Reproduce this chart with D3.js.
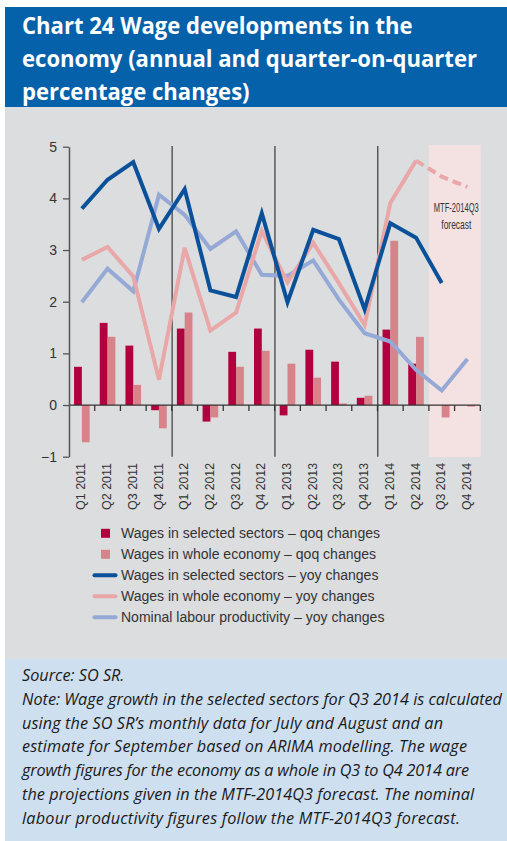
<!DOCTYPE html>
<html>
<head>
<meta charset="utf-8">
<script src="https://cdn.jsdelivr.net/npm/d3@7"></script>
<style>
  html, body { margin: 0; padding: 0; background: #ffffff; }
  svg { display: block; }
</style>
</head>
<body>
<svg id="chart" width="507" height="841"></svg>
<script>
const quarters = ["Q1 2011","Q2 2011","Q3 2011","Q4 2011","Q1 2012","Q2 2012","Q3 2012","Q4 2012",
                  "Q1 2013","Q2 2013","Q3 2013","Q4 2013","Q1 2014","Q2 2014","Q3 2014","Q4 2014"];
const qoqSelected = [0.74, 1.59, 1.15, -0.10, 1.48, -0.32, 1.03, 1.48, -0.20, 1.07, 0.84, 0.14, 1.46, 0.80, null, null];
const qoqWhole    = [-0.72, 1.32, 0.39, -0.45, 1.79, -0.24, 0.74, 1.05, 0.80, 0.53, 0.03, 0.18, 3.18, 1.32, -0.24, -0.03];
const yoySelected = [3.80, 4.36, 4.70, 3.41, 4.18, 2.22, 2.09, 3.71, 1.99, 3.39, 3.21, 1.85, 3.52, 3.24, 2.36, null];
const yoyWhole    = [2.81, 3.06, 2.49, 0.49, 3.04, 1.44, 1.79, 3.37, 2.37, 3.14, 2.36, 1.55, 3.91, 4.73, 4.42, 4.22];
const productivity= [1.99, 2.64, 2.20, 4.07, 3.68, 3.02, 3.36, 2.52, 2.50, 2.80, 2.04, 1.39, 1.23, 0.68, 0.28, 0.89];
const forecastQuarters = ["Q3 2014", "Q4 2014"];
const lastActualQuarter = "Q2 2014";
const yTicks = [-1, 0, 1, 2, 3, 4, 5];
const yearStarts = ["Q1 2012", "Q1 2013", "Q1 2014"];

const titleLines = ["Chart 24 Wage developments in the", "economy (annual and quarter-on-quarter", "percentage changes)"];
const legendItems = [
  {label: "Wages in selected sectors – qoq changes", type: "bar", color: "#b1003d"},
  {label: "Wages in whole economy – qoq changes", type: "bar", color: "#d8828a"},
  {label: "Wages in selected sectors – yoy changes", type: "line", color: "#0b519a"},
  {label: "Wages in whole economy – yoy changes", type: "line", color: "#e9a7a8"},
  {label: "Nominal labour productivity – yoy changes", type: "line", color: "#95a9d6"}
];
const noteLines = [
  "Source: SO SR.",
  "Note: Wage growth in the selected sectors for Q3 2014 is calculated",
  "using the SO SR’s monthly data for July and August and an",
  "estimate for September based on ARIMA modelling. The wage",
  "growth figures for the economy as a whole in Q3 to Q4 2014 are",
  "the projections given in the MTF-2014Q3 forecast. The nominal",
  "labour productivity figures follow the MTF-2014Q3 forecast."
];

const svg = d3.select("#chart");

// fit a group of text lines with one uniform horizontal squeeze (ref line sets the factor)
function uniformFit(sel, refIndex, refWidth) {
  const nodes = sel.nodes();
  const widths = nodes.map(n => n.getComputedTextLength());
  const k = refWidth / widths[refIndex];
  nodes.forEach((n, i) => {
    n.setAttribute("textLength", (widths[i] * k).toFixed(1));
    n.setAttribute("lengthAdjust", "spacingAndGlyphs");
  });
}

// panels
svg.append("rect").attr("x", 5).attr("y", 107).attr("width", 502).attr("height", 553).attr("fill", "#dcdddf");
svg.append("rect").attr("x", 5).attr("y", 7).attr("width", 502).attr("height", 100).attr("fill", "#0561aa");
svg.append("rect").attr("x", 5).attr("y", 659).attr("width", 502).attr("height", 182).attr("fill", "#cedff0");

// title
const titleSel = svg.append("g").selectAll("text").data(titleLines).join("text")
  .attr("x", 22).attr("y", (d, i) => 33.5 + i * 33)
  .attr("fill", "#ffffff")
  .attr("font-family", "'Open Sans', 'Noto Sans', sans-serif")
  .attr("font-weight", 700).attr("font-size", 22.5)
  .text(d => d);
uniformFit(titleSel, 1, 455);

// scales
const x = d3.scaleBand().domain(quarters).range([69, 480.3]).paddingInner(0).paddingOuter(0);
const y = d3.scaleLinear().domain([-1, 5]).range([456.7, 146.7]);
const sub = d3.scaleBand().domain(["sel", "whole"]).range([0, 15.6]);
const barOffset = (x.bandwidth() - 15.6) / 2;

// forecast shading
svg.append("rect")
  .attr("x", x(forecastQuarters[0])).attr("y", 145)
  .attr("width", x(forecastQuarters[1]) + x.bandwidth() - x(forecastQuarters[0]) + 0.5)
  .attr("height", 312).attr("fill", "#f4e1e1");

// year separators
svg.append("g").selectAll("line").data(yearStarts).join("line")
  .attr("x1", d => x(d) + 0.3).attr("x2", d => x(d) + 0.3)
  .attr("y1", 146).attr("y2", y(-1))
  .attr("stroke", "#3a3a3a").attr("stroke-width", 1.2);

// bars
const barData = [];
quarters.forEach((q, i) => {
  if (qoqSelected[i] !== null) barData.push({q, key: "sel", v: qoqSelected[i], color: legendItems[0].color});
  if (qoqWhole[i] !== null) barData.push({q, key: "whole", v: qoqWhole[i], color: legendItems[1].color});
});
svg.append("g").selectAll("rect").data(barData).join("rect")
  .attr("x", d => x(d.q) + barOffset + sub(d.key))
  .attr("width", sub.bandwidth())
  .attr("y", d => y(Math.max(0, d.v)))
  .attr("height", d => Math.abs(y(d.v) - y(0)))
  .attr("fill", d => d.color);

// x axis line & ticks
const xAxisG = svg.append("g");
xAxisG.append("line").attr("x1", 69).attr("x2", x.range()[1]).attr("y1", y(0)).attr("y2", y(0))
  .attr("stroke", "#333").attr("stroke-width", 1.3);
const boundaries = quarters.map(q => x(q)).concat([x.range()[1]]);
xAxisG.selectAll("line.tick").data(boundaries.slice(1)).join("line").attr("class", "tick")
  .attr("x1", d => d).attr("x2", d => d).attr("y1", y(0)).attr("y2", y(0) + 6)
  .attr("stroke", "#333").attr("stroke-width", 1.3);

// lines
const cx = q => x(q) + x.bandwidth() / 2;
const lineGen = d3.line().defined(d => d.v !== null).x(d => cx(d.q)).y(d => y(d.v));
const toPts = arr => quarters.map((q, i) => ({q, v: arr[i]}));
const lastIdx = quarters.indexOf(lastActualQuarter);

svg.append("path").datum(toPts(productivity)).attr("d", lineGen)
  .attr("fill", "none").attr("stroke", legendItems[4].color).attr("stroke-width", 4);
const wholePts = toPts(yoyWhole);
svg.append("path").datum(wholePts.slice(0, lastIdx + 1)).attr("d", lineGen)
  .attr("fill", "none").attr("stroke", legendItems[3].color).attr("stroke-width", 4);
svg.append("path").datum(wholePts.slice(lastIdx)).attr("d", lineGen)
  .attr("fill", "none").attr("stroke", legendItems[3].color).attr("stroke-width", 4)
  .attr("stroke-dasharray", "9,5");
svg.append("path").datum(toPts(yoySelected)).attr("d", lineGen)
  .attr("fill", "none").attr("stroke", legendItems[2].color).attr("stroke-width", 4);

// y axis
const yAxis = d3.axisLeft(y).tickValues(yTicks).tickSize(6).tickSizeOuter(0).tickPadding(6)
  .tickFormat(d3.format("d"));
const yG = svg.append("g").attr("transform", "translate(69,0)").call(yAxis);
yG.select(".domain").attr("stroke", "#555").attr("stroke-width", 1.5);
yG.selectAll(".tick line").attr("stroke", "#555").attr("stroke-width", 1.3);
yG.selectAll(".tick text").attr("fill", "#333").attr("font-size", 14)
  .attr("font-family", "'Liberation Sans', Arial, sans-serif");

// x labels
svg.append("g").selectAll("text").data(quarters).join("text")
  .attr("transform", d => `translate(${cx(d) - 1},463) rotate(-90)`)
  .attr("text-anchor", "end").attr("dy", "0.35em")
  .attr("fill", "#333").attr("font-size", 13)
  .attr("font-family", "'Liberation Sans', Arial, sans-serif")
  .attr("textLength", 47).attr("lengthAdjust", "spacingAndGlyphs")
  .text(d => d);

// forecast annotation
svg.append("text").attr("x", 456.3).attr("y", 211.5).attr("text-anchor", "middle")
  .attr("fill", "#333").attr("font-size", 13)
  .attr("font-family", "'Liberation Sans', Arial, sans-serif")
  .attr("textLength", 45).attr("lengthAdjust", "spacingAndGlyphs").text("MTF-2014Q3");
svg.append("text").attr("x", 456.3).attr("y", 228.5).attr("text-anchor", "middle")
  .attr("fill", "#333").attr("font-size", 13)
  .attr("font-family", "'Liberation Sans', Arial, sans-serif")
  .attr("textLength", 30).attr("lengthAdjust", "spacingAndGlyphs").text("forecast");

// legend
const lg = svg.append("g").selectAll("g").data(legendItems).join("g")
  .attr("transform", (d, i) => `translate(0,${533.3 + i * 21})`);
lg.filter(d => d.type === "bar").append("rect")
  .attr("x", 101).attr("y", -4.5).attr("width", 9).attr("height", 9).attr("fill", d => d.color);
lg.filter(d => d.type === "line").append("line")
  .attr("x1", 94.5).attr("x2", 115.5).attr("y1", 0).attr("y2", 0)
  .attr("stroke", d => d.color).attr("stroke-width", 4).attr("stroke-linecap", "round");
const legendText = lg.append("text").attr("x", 121).attr("y", 5)
  .attr("fill", "#333").attr("font-size", 14)
  .attr("font-family", "'Liberation Sans', Arial, sans-serif")
  .text(d => d.label);
uniformFit(legendText, 0, 259);

// notes: uniform glyph squeeze via group transform, line ends matched with letter spacing
const noteEnds = [null, 502, 443, 467, 469, 474, 460];
const noteG = svg.append("g");
const noteSel = noteG.selectAll("text").data(noteLines).join("text")
  .attr("x", 0).attr("y", (d, i) => 681 + i * 23.8)
  .attr("fill", "#1a1a1a").attr("font-size", 16.5).attr("font-style", "italic")
  .attr("font-family", "'Open Sans', 'Noto Sans', sans-serif")
  .text(d => d);
const noteNat = noteSel.nodes().map(n => n.getComputedTextLength());
const kNote = (noteEnds[1] - 22) / noteNat[1];
noteG.attr("transform", `translate(22,0) scale(${kNote},1)`);
noteSel.each(function(d, i) {
  if (noteEnds[i] === null) return;
  this.setAttribute("textLength", ((noteEnds[i] - 22) / kNote).toFixed(1));
  this.setAttribute("lengthAdjust", "spacing");
});
</script>
</body>
</html>
